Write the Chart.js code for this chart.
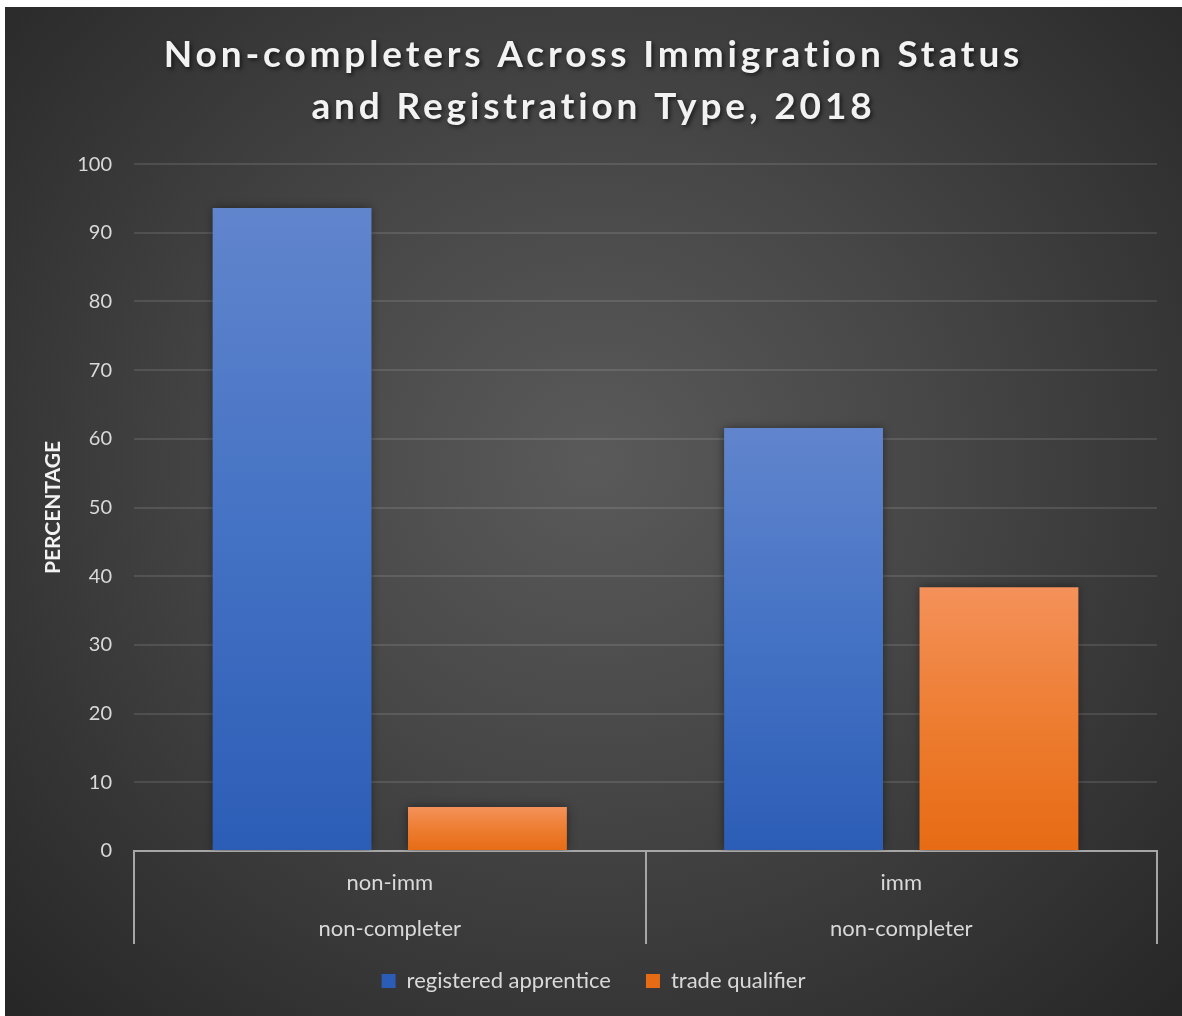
<!DOCTYPE html>
<html><head><meta charset="utf-8">
<script src="https://cdn.jsdelivr.net/npm/chart.js@4.4.1/dist/chart.umd.min.js"></script>
<style>
html,body{margin:0;padding:0;background:#ffffff;}
#wrap{position:absolute;left:5px;top:7px;width:1177px;height:1009px;
background:radial-gradient(ellipse farthest-corner at 50% 45%, #5a5a5a 0%, #474747 40%, #262626 100%);}
canvas{display:block;}
</style></head><body>
<div id="wrap"><canvas id="c"></canvas></div>
<script>
const titleLines = ["Non-completers Across Immigration Status", "and Registration Type, 2018"];
const categories = [["non-imm", "non-completer"], ["imm", "non-completer"]];
const seriesNames = ["registered apprentice", "trade qualifier"];
const registeredApprentice = [93.6, 61.6];
const tradeQualifier = [6.4, 38.4];
const yTickValues = [0, 10, 20, 30, 40, 50, 60, 70, 80, 90, 100];
const yAxisTitle = "PERCENTAGE";

function barGradient(top, bottom, solid) {
  return function (ctx) {
    const chart = ctx.chart;
    if (ctx.type !== 'data' || !chart.chartArea || !chart.scales.y) return solid;
    const ys = chart.scales.y;
    const y1 = ys.getPixelForValue(ctx.raw);
    const y0 = ys.getPixelForValue(0);
    if (!isFinite(y1) || !isFinite(y0) || y1 === y0) return solid;
    const g = chart.ctx.createLinearGradient(0, y1, 0, y0);
    g.addColorStop(0, top);
    g.addColorStop(0.5, solid);
    g.addColorStop(1, bottom);
    return g;
  };
}

const titleStyle = {
  id: 'titleStyle',
  afterInit(chart) {
    const tb = chart.titleBlock;
    if (!tb) return;
    const orig = tb.draw.bind(tb);
    tb.draw = function () {
      const c = chart.ctx;
      c.save();
      c.letterSpacing = '3.85px';
      c.shadowColor = 'rgba(0,0,0,0.6)';
      c.shadowBlur = 4;
      c.shadowOffsetX = 2;
      c.shadowOffsetY = 2;
      orig();
      c.restore();
    };
  }
};

const barShadow = {
  id: 'barShadow',
  beforeDatasetsDraw(chart) {
    const c = chart.ctx;
    c.save();
    c.shadowColor = 'rgba(0,0,0,0.45)';
    c.shadowBlur = 9;
    c.shadowOffsetX = 0;
    c.shadowOffsetY = 0;
  },
  afterDatasetsDraw(chart) { chart.ctx.restore(); }
};

new Chart(document.getElementById('c'), {
  type: 'bar',
  data: {
    labels: categories,
    datasets: [
      { label: seriesNames[0], data: registeredApprentice,
        backgroundColor: barGradient('#6185cd', '#2c5db6', '#4472c4'), borderWidth: 0,
        categoryPercentage: 0.764, barPercentage: 0.813 },
      { label: seriesNames[1], data: tradeQualifier,
        backgroundColor: barGradient('#f4915a', '#e76b14', '#ed7d31'), borderWidth: 0,
        categoryPercentage: 0.764, barPercentage: 0.813 }
    ]
  },
  options: {
    responsive: true,
    maintainAspectRatio: false,
    animation: false,
    layout: { padding: { left: 0, right: 0, top: 0, bottom: 14 } },
    scales: {
      y: {
        min: 0, max: 100,
        afterBuildTicks(s) { s.ticks = yTickValues.map(v => ({ value: v })); },
        afterFit(s) { s.width = 129; },
        ticks: { color: '#d9d9d9', font: { family: 'Lato', size: 20 }, padding: 22 },
        grid: { color: 'rgba(255,255,255,0.11)', lineWidth: 2, drawTicks: false },
        border: { display: false },
        title: { display: true, text: yAxisTitle, color: '#f2f2f2',
          font: { family: 'Lato', size: 21, weight: 'bold' }, padding: { top: 36, bottom: 0 } }
      },
      yRightSpace: {
        position: 'right', display: true,
        afterFit(s) { s.width = 25; },
        grid: { display: false, drawTicks: false },
        border: { display: false },
        ticks: { display: false }
      },
      x: {
        afterDataLimits(s) { s._computeLabelArea = function () { return undefined; }; },
        afterFit(s) { s.height = 84; },
        grid: { display: true, drawOnChartArea: false, drawTicks: true, tickLength: 93,
          offset: true, color: '#a6a6a6', lineWidth: 2 },
        border: { display: true, color: '#a6a6a6', width: 2 },
        ticks: { color: '#d9d9d9', font: { family: 'Lato', size: 22, lineHeight: 2.09 }, padding: -84, maxRotation: 0 }
      }
    },
    plugins: {
      title: { display: true, text: titleLines, color: '#f2f2f2',
        font: { family: 'Lato', size: 37, weight: 'bold', lineHeight: 1.38 },
        padding: { top: 23, bottom: 32 } },
      legend: { position: 'bottom',
        labels: { color: '#d9d9d9', font: { family: 'Lato', size: 22 }, boxWidth: 14, boxHeight: 14, padding: 35 } },
      tooltip: { enabled: false }
    }
  },
  plugins: [titleStyle, barShadow]
});
</script>
</body></html>
